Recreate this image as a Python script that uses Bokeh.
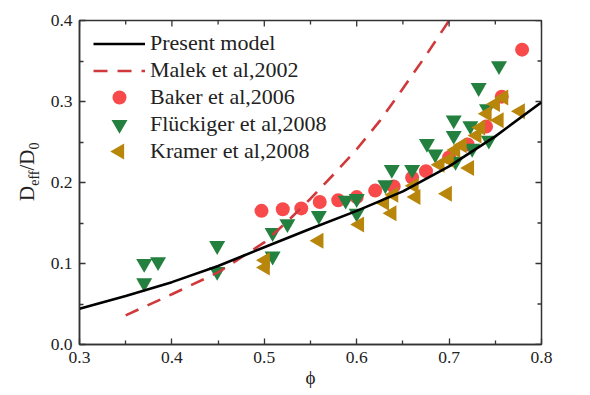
import math
from bokeh.plotting import figure
from bokeh.layouts import row
from bokeh.models import (Range1d, Legend, LegendItem, Div, FixedTicker, PrintfTickFormatter)
from bokeh.embed import file_html
from bokeh.resources import INLINE

# ---- data ----
model_phi = [0.30, 0.35, 0.40, 0.45, 0.50, 0.55, 0.60, 0.65, 0.70, 0.75, 0.80]
model_d = [0.044, 0.060, 0.077, 0.097, 0.120, 0.143, 0.165, 0.189, 0.220, 0.257, 0.299]

malek_phi = [0.35, 0.40, 0.45, 0.50, 0.525, 0.55, 0.575, 0.60, 0.625, 0.65, 0.675, 0.70]
malek_d = [0.036, 0.062, 0.089, 0.126, 0.152, 0.180, 0.210, 0.241, 0.276, 0.316, 0.357, 0.400]

baker_phi = [0.497, 0.52, 0.54, 0.56, 0.58, 0.60, 0.62, 0.64, 0.66, 0.675, 0.70, 0.72, 0.74, 0.757, 0.779]
baker_d = [0.165, 0.167, 0.168, 0.176, 0.178, 0.182, 0.190, 0.195, 0.206, 0.214, 0.231, 0.247, 0.269, 0.306, 0.364]

fluck_phi = [0.370, 0.385, 0.370, 0.449, 0.449, 0.509, 0.509, 0.525, 0.559, 0.588, 0.600, 0.600,
             0.631, 0.638, 0.660, 0.676, 0.685, 0.705, 0.705, 0.707, 0.723, 0.725, 0.732, 0.741,
             0.743, 0.754]
fluck_d = [0.100, 0.102, 0.076, 0.122, 0.090, 0.138, 0.109, 0.149, 0.159, 0.178, 0.180, 0.162,
           0.197, 0.216, 0.216, 0.248, 0.235, 0.258, 0.277, 0.226, 0.270, 0.242, 0.317, 0.291,
           0.252, 0.344]

kramer_phi = [0.501, 0.501, 0.559, 0.603, 0.630, 0.638, 0.640, 0.662, 0.664, 0.690, 0.698,
              0.700, 0.707, 0.714, 0.722, 0.730, 0.734, 0.741, 0.750, 0.754, 0.759, 0.777]
kramer_d = [0.104, 0.095, 0.128, 0.148, 0.175, 0.162, 0.185, 0.196, 0.182, 0.222, 0.186,
            0.228, 0.240, 0.246, 0.218, 0.258, 0.268, 0.285, 0.297, 0.277, 0.305, 0.288]

x_ticks = [0.3, 0.4, 0.5, 0.6, 0.7, 0.8]
y_ticks = [0.0, 0.1, 0.2, 0.3, 0.4]
x_minor = [0.35, 0.45, 0.55, 0.65, 0.75]
y_minor = [0.05, 0.15, 0.25, 0.35]

legend_labels = ["Present model", "Malek et al,2002", "Baker et al,2006",
                 "Flückiger et al,2008", "Kramer et al,2008"]

SERIF = "'Liberation Serif', 'Times New Roman', serif"
AXC = "#333333"
RED, GREEN, GOLD = "#f84a4a", "#23803e", "#b8860b"

X0, X1, Y0, Y1 = 0.3, 0.8, 0.0, 0.4
FW, FH = 462, 324
ux = (X1 - X0) / FW   # data units per pixel
uy = (Y1 - Y0) / FH

p = figure(frame_width=FW, frame_height=FH,
           min_border_left=39, min_border_top=20, min_border_right=30, min_border_bottom=46,
           x_range=Range1d(X0, X1), y_range=Range1d(Y0, Y1),
           output_backend="svg", toolbar_location=None)
p.outline_line_color = AXC
p.outline_line_width = 1.5
p.xgrid.visible = False
p.ygrid.visible = False
p.background_fill_color = "white"
p.border_fill_color = "white"

# data markers
r_baker = p.scatter(baker_phi, baker_d, marker="circle", size=14,
                    fill_color=RED, line_color=None)
r_fluck = p.scatter(fluck_phi, fluck_d, marker="inverted_triangle", size=16,
                    fill_color=GREEN, line_color=None)
r_kramer = p.scatter(kramer_phi, kramer_d, marker="triangle", angle=math.pi / 2, size=16,
                     fill_color=GOLD, line_color=None)

# curves
r_malek = p.line(malek_phi, malek_d, line_color="#d0393b", line_width=2.6, line_dash="14 10")
r_model = p.line(model_phi, model_d, line_color="black", line_width=2.6)

# axes
for ax in list(p.xaxis) + list(p.yaxis):
    ax.axis_line_color = AXC
    ax.axis_line_width = 1.5
    ax.major_tick_line_color = AXC
    ax.minor_tick_line_color = AXC
    ax.major_tick_line_width = 1.3
    ax.minor_tick_line_width = 1.3
    ax.major_tick_in = 6
    ax.major_tick_out = 0
    ax.minor_tick_in = 4
    ax.minor_tick_out = 0
    ax.major_label_text_font = SERIF
    ax.major_label_text_font_size = "17.5px"
    ax.major_label_text_color = "#222222"
    ax.major_label_standoff = 7
    ax.formatter = PrintfTickFormatter(format="%.1f")

p.xaxis.ticker = FixedTicker(ticks=x_ticks, minor_ticks=x_minor)
p.yaxis.ticker = FixedTicker(ticks=y_ticks, minor_ticks=y_minor)
p.xaxis.axis_label = "ϕ"
p.xaxis.axis_label_text_font = SERIF
p.xaxis.axis_label_text_font_size = "19px"
p.xaxis.axis_label_text_font_style = "normal"
p.xaxis.axis_label_standoff = 1
p.xaxis.axis_label_text_color = "#222222"

# inward ticks on the top and right frame edges (half of each dash is clipped by the frame)
p.scatter(x_ticks, [Y1] * len(x_ticks), marker="dash", angle=math.pi / 2, size=12,
          line_color=AXC, line_width=1.3)
p.scatter(x_minor, [Y1] * len(x_minor), marker="dash", angle=math.pi / 2, size=8,
          line_color=AXC, line_width=1.3)
p.scatter([X1] * len(y_ticks), y_ticks, marker="dash", size=12,
          line_color=AXC, line_width=1.3)
p.scatter([X1] * len(y_minor), y_minor, marker="dash", size=8,
          line_color=AXC, line_width=1.3)

# legend: text and line swatches from Bokeh's Legend; marker swatches drawn full size
LEG_X, ROW_H, LEG_TOP, GLYPH_W = 14, 27, 9.5, 52
FH_LEG = ROW_H * 5
blank = p.scatter([], [], marker="circle", fill_alpha=0, line_alpha=0)
legend = Legend(items=[
    LegendItem(label=legend_labels[0], renderers=[r_model]),
    LegendItem(label=legend_labels[1], renderers=[r_malek]),
    LegendItem(label=legend_labels[2], renderers=[blank]),
    LegendItem(label=legend_labels[3], renderers=[blank]),
    LegendItem(label=legend_labels[4], renderers=[blank]),
], location=(LEG_X, FH - LEG_TOP - FH_LEG))
legend.border_line_color = None
legend.background_fill_alpha = 0
legend.label_text_font = SERIF
legend.label_text_font_size = "22px"
legend.label_text_color = "#222222"
legend.glyph_width = GLYPH_W
legend.glyph_height = ROW_H
legend.label_height = 20
legend.label_standoff = 5
legend.spacing = 0
legend.padding = 0
legend.margin = 0
p.add_layout(legend, "center")

sw_x = X0 + (LEG_X + GLYPH_W / 2) * ux


def sw_y(i):
    return Y1 - (LEG_TOP + ROW_H * (i + 0.5)) * uy


p.scatter([sw_x], [sw_y(2)], marker="circle", size=14, fill_color=RED, line_color=None)
p.scatter([sw_x], [sw_y(3)], marker="inverted_triangle", size=16, fill_color=GREEN, line_color=None)
p.scatter([sw_x], [sw_y(4)], marker="triangle", angle=math.pi / 2, size=16,
          fill_color=GOLD, line_color=None)

# y-axis title with subscripts, as rotated HTML text beside the plot
ylabel_html = (
    '<div style="position:absolute; left:15px; top:201px; transform:rotate(-90deg); '
    'transform-origin:0 0; font-family:\'Liberation Serif\'; font-size:21px; '
    'line-height:24px; white-space:nowrap; color:#222222;">'
    'D<sub style="font-size:14px;">eff</sub>/D<sub style="font-size:14px;">0</sub></div>'
)
ylab = Div(text=ylabel_html, width=40, height=390, margin=0)

layout = row(ylab, p)
open("out.html", "w").write(file_html(layout, INLINE))
